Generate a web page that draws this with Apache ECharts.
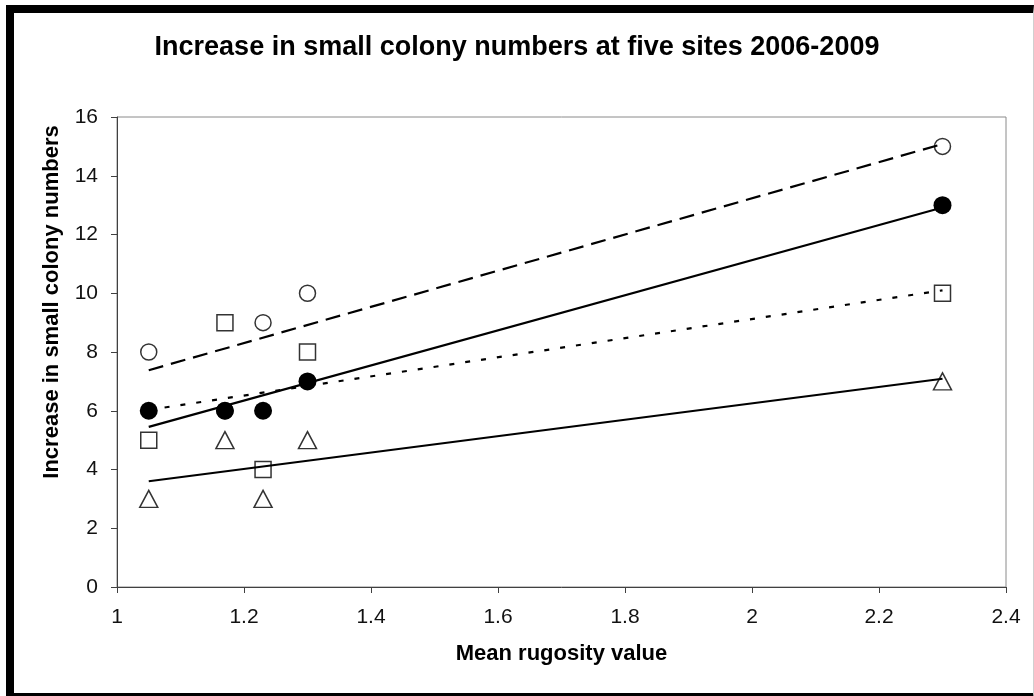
<!DOCTYPE html>
<html>
<head>
<meta charset="utf-8">
<script src="https://cdn.jsdelivr.net/npm/echarts@6/dist/echarts.min.js"></script>
<style>
  html, body { margin: 0; padding: 0; background: #fff; overflow: hidden; }
  #chart { position: absolute; left: 0; top: 0; width: 1034px; height: 696px; }
  #frame { position: absolute; left: 6px; top: 5px; width: 1028px; height: 696px; box-sizing: border-box;
           border-top: 8px solid #000; border-left: 8px solid #000; border-bottom: 8px solid #000;
           border-right: 1px solid #d0d0d0; pointer-events: none; }
</style>
</head>
<body>
<div id="chart"></div>
<div id="frame"></div>
<script>
// Mean rugosity value of each site (x)
const rugosity = [1.05, 1.17, 1.23, 1.30, 2.30];
// Increase in small colony numbers (y) for the four groups
const openCircles   = [8, 6, 9, 10, 15];
const filledCircles = [6, 6, 6, 7, 13];
const openSquares   = [5, 9, 4, 8, 10];
const openTriangles = [3, 5, 3, 5, 7];
// Trend line end points
const trendX            = [1.05, 2.30];
const openCircleTrend   = [7.38, 15.08];
const filledCircleTrend = [5.45, 12.92];
const squareTrend       = [6.03, 10.10];
const triangleTrend     = [3.60, 7.09];
// Texts
const chartTitle = 'Increase in small colony numbers at five sites 2006-2009';
const xTitle = 'Mean rugosity value';
const yTitle = 'Increase in small colony numbers';

const pairs = (xs, ys) => xs.map((x, i) => [x, ys[i]]);

const chart = echarts.init(document.getElementById('chart'));
const FONT = '"Liberation Sans", Arial, sans-serif';
const hollow = { color: 'rgba(0,0,0,0)', borderColor: '#000', borderWidth: 1.5 };

chart.setOption({
  animation: false,
  backgroundColor: '#fff',
  title: {
    text: chartTitle,
    left: 'center', top: 29,
    textStyle: { fontFamily: FONT, fontSize: 27, fontWeight: 'bold', color: '#000' }
  },
  graphic: [{
    type: 'text', x: 52, y: 302, rotation: Math.PI / 2, silent: true,
    style: { text: yTitle, fontFamily: FONT, fontSize: 22, fontWeight: 'bold', fill: '#000',
             align: 'center', verticalAlign: 'middle' }
  }],
  grid: { left: 117, top: 117, right: 28, bottom: 109, show: true, borderColor: '#8a8a8a', borderWidth: 1 },
  xAxis: {
    type: 'value', min: 1, max: 2.4, interval: 0.2,
    name: xTitle, nameLocation: 'middle', nameGap: 56,
    nameTextStyle: { fontFamily: FONT, fontSize: 22, fontWeight: 'bold', color: '#000' },
    axisLine: { show: true, onZero: false, lineStyle: { color: '#404040', width: 1 } },
    axisTick: { show: true, length: 6, inside: false, lineStyle: { color: '#404040' } },
    axisLabel: { fontFamily: FONT, fontSize: 21, color: '#111', margin: 20 },
    splitLine: { show: false }
  },
  yAxis: {
    type: 'value', min: 0, max: 16, interval: 2,
    axisLine: { show: true, onZero: false, lineStyle: { color: '#404040', width: 1 } },
    axisTick: { show: true, length: 6, inside: false, lineStyle: { color: '#404040' } },
    axisLabel: { fontFamily: FONT, fontSize: 21, color: '#111', margin: 19 },
    splitLine: { show: false }
  },
  series: [
    { type: 'line', data: pairs(trendX, openCircleTrend), symbol: 'none', silent: true,
      lineStyle: { color: '#000', width: 2.2, type: [15, 8] }, z: 2 },
    { type: 'line', data: pairs(trendX, filledCircleTrend), symbol: 'none', silent: true,
      lineStyle: { color: '#000', width: 2.2, type: 'solid' }, z: 2 },
    { type: 'line', data: pairs(trendX, squareTrend), symbol: 'none', silent: true,
      lineStyle: { color: '#000', width: 2.2, type: [5, 11] }, z: 2 },
    { type: 'line', data: pairs(trendX, triangleTrend), symbol: 'none', silent: true,
      lineStyle: { color: '#000', width: 2.2, type: 'solid' }, z: 2 },
    { type: 'scatter', data: pairs(rugosity, openCircles), symbol: 'circle', symbolSize: 16,
      itemStyle: hollow, z: 3 },
    { type: 'scatter', data: pairs(rugosity, openSquares), symbol: 'rect', symbolSize: 16,
      itemStyle: hollow, z: 3 },
    { type: 'scatter', data: pairs(rugosity, openTriangles), symbol: 'triangle', symbolSize: [18, 17],
      itemStyle: hollow, z: 3 },
    { type: 'scatter', data: pairs(rugosity, filledCircles), symbol: 'circle', symbolSize: 18,
      itemStyle: { color: '#000', opacity: 1 }, z: 4 }
  ]
});
</script>
</body>
</html>
